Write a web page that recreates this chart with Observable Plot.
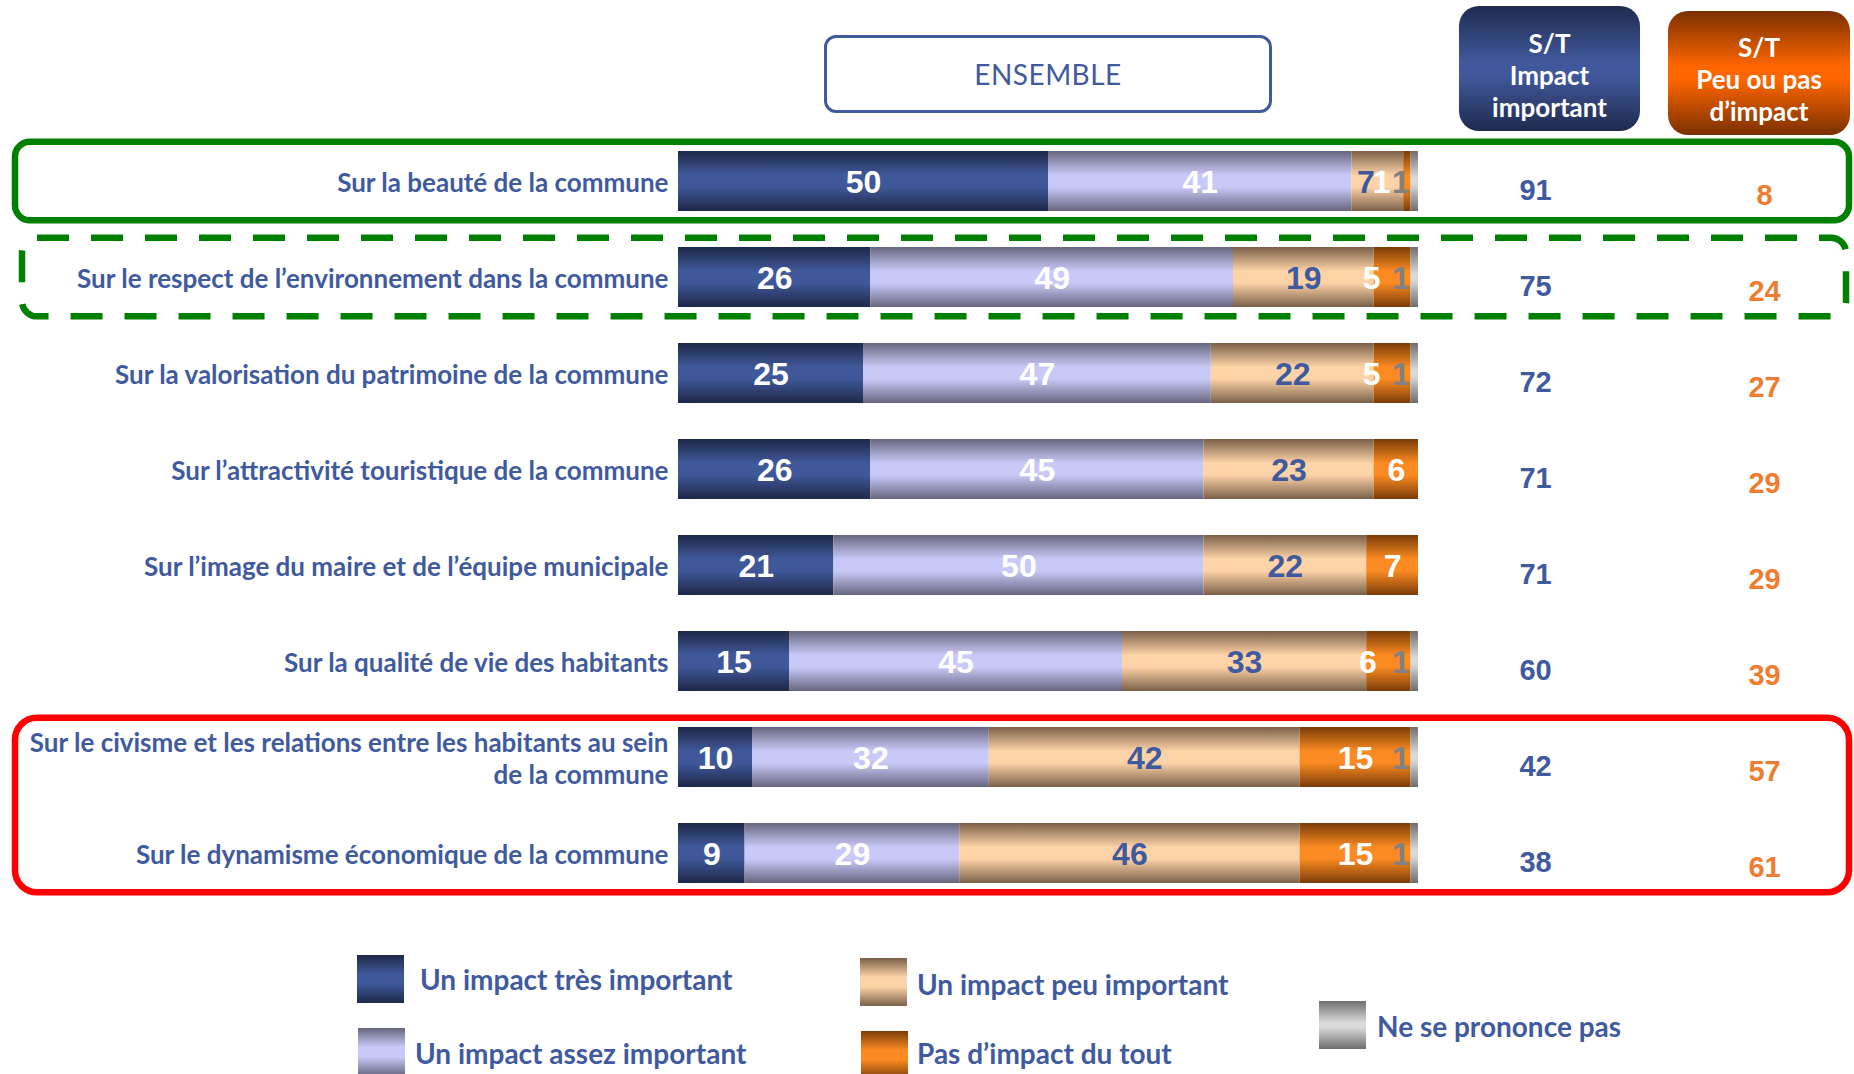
<!DOCTYPE html>
<html><head><meta charset="utf-8">
<script src="https://cdn.jsdelivr.net/npm/d3@7"></script>
<script src="https://cdn.jsdelivr.net/npm/@observablehq/plot@0.6"></script>
<style>
body{margin:0;background:#fff;width:1854px;height:1074px;overflow:hidden;font-family:Lato,"Open Sans",sans-serif;}
#header{position:relative;height:130px;}
#ensemble{position:absolute;left:824px;top:35px;width:442px;height:72px;border:3px solid #3f5a9e;border-radius:12px;
 display:flex;align-items:center;justify-content:center;color:#3f5a9e;font-size:28px;letter-spacing:0.5px;}
.st{position:absolute;border-radius:20px;color:#fff;font-weight:700;font-size:26px;line-height:32px;text-align:center;
 display:flex;flex-direction:column;justify-content:center;box-sizing:border-box;padding-top:12px;}
#stBlue{left:1459px;top:6px;width:181px;height:125px;background:linear-gradient(#1f2a4e,#41599c 45%,#41599c 55%,#1f2a4e);}
#stOrange{left:1668px;top:11px;width:182px;height:124px;background:linear-gradient(#7a3000,#ff6600 45%,#ff6600 55%,#7a3000);}
#chart{height:800px;}
#legend{position:relative;height:144px;overflow:hidden;}
.sw{position:absolute;width:47px;height:48px;}
.lt{position:absolute;color:#3f5a9e;font-weight:700;font-size:28px;line-height:32px;transform:translateY(-50%);white-space:nowrap;}
</style></head><body>
<svg width="0" height="0" style="position:absolute">
<defs>
<linearGradient id="g0" x1="0" y1="0" x2="0" y2="1"><stop offset="0" stop-color="#1e2848"/><stop offset="0.4" stop-color="#3f5899"/><stop offset="0.6" stop-color="#3f5899"/><stop offset="1" stop-color="#1e2848"/></linearGradient>
<linearGradient id="g1" x1="0" y1="0" x2="0" y2="1"><stop offset="0" stop-color="#66667e"/><stop offset="0.4" stop-color="#c9c9f8"/><stop offset="0.6" stop-color="#c9c9f8"/><stop offset="1" stop-color="#66667e"/></linearGradient>
<linearGradient id="g2" x1="0" y1="0" x2="0" y2="1"><stop offset="0" stop-color="#7a6048"/><stop offset="0.4" stop-color="#fdd3a8"/><stop offset="0.6" stop-color="#fdd3a8"/><stop offset="1" stop-color="#7a6048"/></linearGradient>
<linearGradient id="g3" x1="0" y1="0" x2="0" y2="1"><stop offset="0" stop-color="#7a3c08"/><stop offset="0.4" stop-color="#fb8a22"/><stop offset="0.6" stop-color="#fb8a22"/><stop offset="1" stop-color="#7a3c08"/></linearGradient>
<linearGradient id="g4" x1="0" y1="0" x2="0" y2="1"><stop offset="0" stop-color="#6e6e6e"/><stop offset="0.45" stop-color="#dadada"/><stop offset="0.55" stop-color="#dadada"/><stop offset="1" stop-color="#6e6e6e"/></linearGradient>
</defs></svg>
<div id="header">
  <div id="ensemble">ENSEMBLE</div>
  <div class="st" id="stBlue"><div>S/T</div><div>Impact</div><div>important</div></div>
  <div class="st" id="stOrange"><div>S/T</div><div>Peu ou pas</div><div>d’impact</div></div>
</div>
<div id="chart"></div>
<div id="legend"></div>
<script>
// ---- data ----
const rows = [
  "Sur la beauté de la commune",
  "Sur le respect de l’environnement dans la commune",
  "Sur la valorisation du patrimoine de la commune",
  "Sur l’attractivité touristique de la commune",
  "Sur l’image du maire et de l’équipe municipale",
  "Sur la qualité de vie des habitants",
  "Sur le civisme et les relations entre les habitants au sein\nde la commune",
  "Sur le dynamisme économique de la commune"
];
const categories = ["Un impact très important","Un impact assez important","Un impact peu important","Pas d’impact du tout","Ne se prononce pas"];
const tresImportant  = [50,26,25,26,21,15,10, 9];
const assezImportant = [41,49,47,45,50,45,32,29];
const peuImportant   = [ 7,19,22,23,22,33,42,46];
const pasDImpact     = [ 1, 5, 5, 6, 7, 6,15,15];
const nsp            = [ 1, 1, 1, 0, 0, 1, 1, 1];
const stImportant    = [91,75,72,71,71,60,42,38];
const stPeuOuPas     = [ 8,24,27,29,29,39,57,61];
const highlightGroups = [
  {rows:[0], color:"#008000", dash:null, r:15},
  {rows:[1], color:"#008000", dash:"32 22", r:15},
  {rows:[6,7], color:"#ff0000", dash:null, r:22}
];

// ---- table ----
const series = [tresImportant, assezImportant, peuImportant, pasDImpact, nsp];
const table = [];
rows.forEach((row, i) => {
  let acc = 0;
  series.forEach((s, k) => {
    const v = s[i];
    table.push({row, i, k, cat: categories[k], value: v, x0: acc, x1: acc + v});
    acc += v;
  });
});
const labelFill = ["#ffffff","#ffffff","#3f5a9e","#ffffff","#808080"];
function shiftOf(d) {
  const crowded = nsp[d.i] > 0;
  if (d.k === 4) return -14;
  if (d.k === 3 && crowded && d.value < 3) return -26;
  if (d.k === 3 && crowded && d.value < 10) return -21;
  if (d.k === 2 && crowded && d.value < 10) return -12;
  return 0;
}
const labelGroups = d3.groups(table.filter(d => d.value > 0), d => labelFill[d.k] + "|" + shiftOf(d));

const stRows = rows.map((row, i) => ({row, imp: stImportant[i], peu: stPeuOuPas[i]}));

function highlightMark(index, scales, values, dimensions) {
  const y = scales.y;
  const bw = y.bandwidth(), step = y.step();
  const g = d3.create("svg:g");
  for (const h of highlightGroups) {
    const top = y(rows[h.rows[0]]) + bw / 2 - 0.41 * step;
    const bottom = y(rows[h.rows[h.rows.length - 1]]) + bw / 2 + 0.41 * step;
    const left = h.dash ? 22 : 15, right = h.dash ? 8 : 5;
    g.append("rect")
      .attr("x", left).attr("width", dimensions.width - left - right)
      .attr("y", top).attr("height", bottom - top)
      .attr("rx", h.r).attr("ry", h.r)
      .attr("fill", "none").attr("stroke", h.color).attr("stroke-width", 6.5)
      .attr("stroke-dasharray", h.dash);
  }
  return g.node();
}

const numFont = "'Liberation Sans', Arial, sans-serif";
const plot = Plot.plot({
  width: 1854,
  height: 800,
  marginLeft: 678,
  marginRight: 436,
  marginTop: 20,
  marginBottom: 46,
  style: {fontFamily: "Lato, 'Open Sans', sans-serif", background: "transparent"},
  x: {domain: [0, 100], axis: null},
  y: {domain: rows, paddingInner: 0.377, paddingOuter: 0, label: null},
  color: {type: "ordinal", domain: categories, range: categories.map((c, k) => `url(#g${k})`)},
  marks: [
    highlightMark,
    Plot.barX(table, Plot.stackX({x: "value", y: "row", fill: "cat", order: null})),
    ...labelGroups.map(([key, data]) => {
      const [fill, dx] = key.split("|");
      return Plot.text(data, {
        x: d => (d.x0 + d.x1) / 2, y: "row", text: d => String(d.value),
        fill, dx: +dx, dy: 1, fontSize: 32, fontWeight: "bold", fontFamily: numFont
      });
    }),
    Plot.text(stRows, {y: "row", frameAnchor: "right", textAnchor: "middle", dx: 117, dy: 9, text: d => String(d.imp),
      fill: "#3f5a9e", fontSize: 29, fontWeight: "bold", fontFamily: numFont}),
    Plot.text(stRows, {y: "row", frameAnchor: "right", textAnchor: "middle", dx: 346, dy: 14, text: d => String(d.peu),
      fill: "#ed7d31", fontSize: 29, fontWeight: "bold", fontFamily: numFont}),
    Plot.axisY({tickSize: 0, tickPadding: 10, fontSize: 26, fontWeight: "bold", color: "#3f5a9e", lineHeight: 1.22, label: null})
  ]
});
document.getElementById("chart").appendChild(plot);

// ---- legend ----
const legendGrad = [
  "linear-gradient(#1e2848,#3f5899 40%,#3f5899 60%,#1e2848)",
  "linear-gradient(#66667e,#c9c9f8 40%,#c9c9f8 60%,#66667e)",
  "linear-gradient(#7a6048,#fdd3a8 40%,#fdd3a8 60%,#7a6048)",
  "linear-gradient(#7a3c08,#fb8a22 40%,#fb8a22 60%,#7a3c08)",
  "linear-gradient(#6e6e6e,#dadada 45%,#dadada 55%,#6e6e6e)"
];
const legendPos = [
  {sx:357, sy:25, tx:420, ty:49},
  {sx:358, sy:98, tx:415, ty:123},
  {sx:860, sy:28, tx:917, ty:54},
  {sx:861, sy:101, tx:917, ty:123},
  {sx:1319, sy:71, tx:1377, ty:96}
];
const leg = d3.select("#legend");
categories.forEach((c, k) => {
  const p = legendPos[k];
  leg.append("div").attr("class", "sw").style("left", p.sx + "px").style("top", p.sy + "px").style("background", legendGrad[k]);
  leg.append("div").attr("class", "lt").style("left", p.tx + "px").style("top", p.ty + "px").text(c);
});
</script>
</body></html>
